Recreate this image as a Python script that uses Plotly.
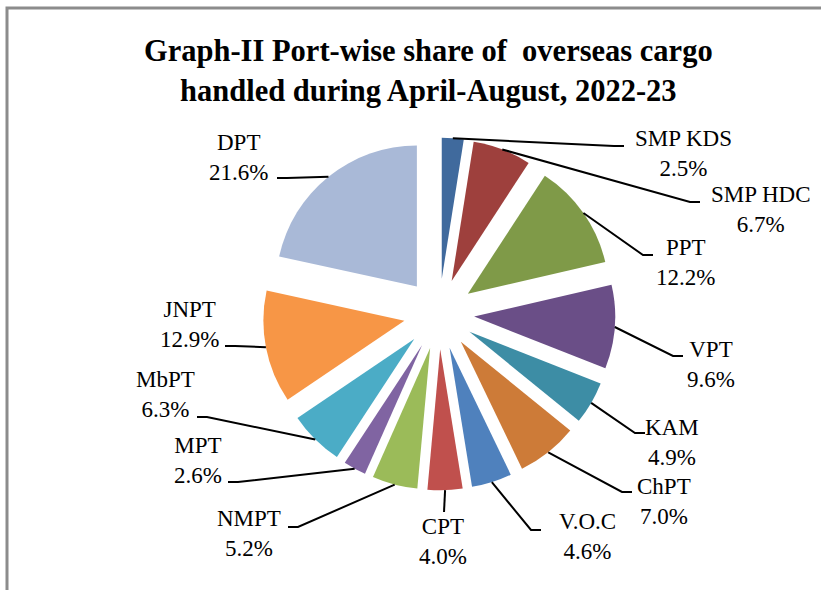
import math
import plotly.graph_objects as go

# ---------------- data ----------------
ports = ["SMP KDS", "SMP HDC", "PPT", "VPT", "KAM", "ChPT", "V.O.C",
         "CPT", "NMPT", "MPT", "MbPT", "JNPT", "DPT"]
shares = [2.5, 6.7, 12.2, 9.6, 4.9, 7.0, 4.6, 4.0, 5.2, 2.6, 6.3, 12.9, 21.6]
colors = ["#406A9D", "#9E403D", "#7F9A48", "#6A4E87", "#3D8DA5", "#CD7B38",
          "#4F81BD", "#C0504D", "#9BBB59", "#8064A2", "#4BACC6", "#F79646",
          "#A9B9D7"]
title_lines = ["Graph-II Port-wise share of  overseas cargo",
               "handled during April-August, 2022-23"]

# ---------------- layout constants (pixels) ----------------
W, H = 821, 590
CX, CY = 439, 314          # pie centre
R = 141                    # pie radius
PULL = 0.25                # explosion as fraction of radius
FONT = "Liberation Serif"

# label block centres (px) and leader end points at label (px, elbow dir)
label_pos = [(683, 153), (761, 210), (685, 262), (711, 364), (672, 442),
             (664, 501), (587, 536), (443, 541), (249, 533), (198, 460),
             (165, 394), (189, 324), (238, 157)]
leader_end = [(624, 146, -1), (700, 202, -1), (653, 255, -1), (683, 356, -1),
              (645, 433, -1), (632, 492, -1), (541, 530, -1), (444, 512, 0),
              (288, 527, 1), (228, 482, 1), (197, 417, 1), (225, 346, 1),
              (277, 178, 1)]


def px(x):
    return x / W


def py(y):
    return 1 - y / H


half = R * (1 + PULL)
fig = go.Figure(go.Pie(
    labels=ports, values=shares, sort=False, direction="clockwise",
    rotation=0, pull=[PULL] * len(shares),
    marker=dict(colors=colors, line=dict(width=0)),
    textinfo="none", hoverinfo="label+percent", showlegend=False,
    domain=dict(x=[px(CX - half), px(CX + half)],
                y=[py(CY + half), py(CY - half)]),
))

total = sum(shares)
shapes = []
annotations = []
cum = 0.0
for i, (name, v) in enumerate(zip(ports, shares)):
    mid = (cum + v / 2) / total * 2 * math.pi
    cum += v
    dist = R * (1 + PULL)
    p = (CX + dist * math.sin(mid), CY - dist * math.cos(mid))
    ex, ey, d = leader_end[i]
    elbow = (ex + d * 10, ey)
    path = f"M {px(p[0])},{py(p[1])} L {px(elbow[0])},{py(elbow[1])} L {px(ex)},{py(ey)}"
    shapes.append(dict(type="path", xref="paper", yref="paper", path=path,
                       line=dict(color="black", width=2)))
    lx, ly = label_pos[i]
    annotations.append(dict(
        x=px(lx), y=py(ly), xref="paper", yref="paper", showarrow=False,
        text=f"{name}<br>{v:.1f}%", align="center",
        xanchor="center", yanchor="middle",
        font=dict(family=FONT, size=23, color="black")))

# title
annotations.append(dict(
    x=px(428), y=py(71), xref="paper", yref="paper", showarrow=False,
    text="<b>" + "<br>".join(title_lines).replace("  ", "&nbsp; ") + "</b>",
    align="center", xanchor="center", yanchor="middle",
    font=dict(family=FONT, size=30.5, color="black")))

# chart frame
shapes.append(dict(type="rect", xref="paper", yref="paper",
                   x0=px(7), y0=py(8), x1=1.05, y1=-0.05,
                   line=dict(color="#8C8C8C", width=3), layer="below"))

fig.update_layout(
    width=W, height=H, autosize=False,
    margin=dict(l=0, r=0, t=0, b=0),
    paper_bgcolor="white", plot_bgcolor="white",
    font=dict(family=FONT),
    shapes=shapes, annotations=annotations,
)
fig.write_html("out.html", config={"displayModeBar": False},
               post_script="document.body.style.margin='0';")
